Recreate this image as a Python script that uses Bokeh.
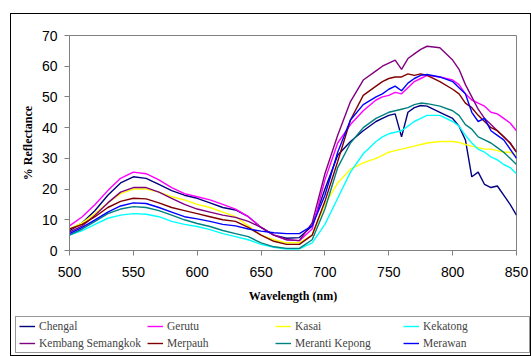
from bokeh.plotting import figure
from bokeh.layouts import column
from bokeh.models import Legend, LegendItem, FixedTicker, Range1d
from bokeh.embed import file_html
from bokeh.resources import INLINE

wavelength = [500, 510, 520, 530, 540, 550, 560, 570, 580, 590, 600, 610, 620, 630, 640,
              650, 660, 670, 680, 690, 700, 710, 720, 730, 740, 745, 750, 755, 760, 765,
              770, 775, 780, 790, 800, 805, 810, 815, 820, 825, 830, 835, 840, 845, 850]

chengal = [6.5, 9, 13, 18, 22, 24, 23.5, 21.5, 19.5, 18, 17, 15.5, 14, 13.2, 11,
           7.5, 5, 4, 4.2, 8, 20, 31, 35.5, 39, 42, 43, 44, 44.5, 37, 45,
           46.5, 47.2, 47, 45, 43, 40.5, 36, 24, 25.5, 21.5, 20.5, 21, 18, 15, 11.5]
gerutu = [8, 11, 15, 19.5, 23.5, 25.5, 25, 23, 20.5, 18.5, 17.5, 16.5, 15, 13.5, 11,
          7.5, 5, 3.5, 3.2, 7, 23, 35, 41, 45.5, 49, 50, 50.5, 51.5, 51, 53,
          55, 56, 57, 56.5, 55.5, 54, 51, 49, 48, 47, 45, 44.5, 43, 41.5, 39]
kasai = [7, 9, 12, 15.5, 18.5, 20, 20, 19, 17.5, 16.5, 15, 14, 12.5, 11, 8,
         5, 3.5, 2.5, 2.5, 5, 15, 22, 26.5, 28.5, 30, 31, 32, 32.5, 33, 33.5,
         34, 34.5, 35, 35.5, 35.5, 35.2, 34.5, 34, 33.5, 33, 33, 32.5, 32, 32, 31]
kekatong = [5, 6.5, 8.5, 10.5, 11.5, 12, 11.8, 11, 9.5, 8.5, 7.8, 6.8, 5.5, 4.5, 3.5,
            2, 1, 0.5, 0.5, 2.5, 8.5, 17, 25.5, 31.5, 35.5, 37, 38, 38.5, 39, 40.5,
            42, 43, 44, 44, 42, 40.5, 37.5, 35, 33, 32, 30.5, 29.5, 28, 27, 25]
kembang = [6, 8, 11.5, 15.5, 19, 20.5, 20.5, 19, 17, 15, 13.5, 12.5, 11.5, 10.8, 9.5,
           7.5, 5, 3.5, 3.2, 9, 25, 37.5, 48.5, 55.5, 58.5, 60, 61, 62, 59, 62.5,
           64, 65.5, 66.5, 66, 62, 59, 54, 50, 46, 43, 41, 39, 37, 35, 32]
merpauh = [7, 8.5, 11, 14, 16, 17, 16.8, 15.5, 14, 13, 12, 11, 10, 9.5, 7.5,
           5, 3, 2, 2, 5, 16, 29, 42.5, 50.5, 53.5, 55, 56, 56.5, 56.5, 57.5,
           57, 57.5, 57, 55, 52.5, 51, 48, 46.5, 44, 42, 40, 39, 37, 35, 32]
meranti_kepong = [5, 7, 9.5, 12, 13.5, 14.3, 14, 13, 11.5, 10, 8.8, 7.8, 6.5, 5.5, 4.5,
                  2.5, 1.2, 0.7, 0.7, 3.5, 13.5, 27, 35, 40, 43, 44, 45, 45.5, 46, 46.5,
                  47.5, 48, 47.8, 47, 45.5, 44, 41, 39.5, 37, 36, 35, 33.5, 32, 30, 28]
merawan = [5.5, 7.5, 10, 12.5, 14.5, 15.5, 15.3, 14, 12.5, 11, 10.3, 9.5, 8.5, 8, 7,
           6.3, 5.8, 5.5, 5.5, 8, 18, 32, 42.5, 47.5, 50, 51, 52.5, 53.5, 52, 54.5,
           56, 57, 57.3, 56.5, 55, 53, 51, 45, 42, 43, 39, 37.5, 36, 33, 30]

series_names = ["Chengal", "Gerutu", "Kasai", "Kekatong",
                "Kembang Semangkok", "Merpauh", "Meranti Kepong", "Merawan"]
series_values = [chengal, gerutu, kasai, kekatong, kembang, merpauh, meranti_kepong, merawan]
series_colors = ["#000080", "#FF00FF", "#FFFF00", "#00FFFF",
                 "#800080", "#800000", "#008080", "#0000FF"]

x_ticks = [500, 550, 600, 650, 700, 750, 800, 850]
y_ticks = [0, 10, 20, 30, 40, 50, 60, 70]

p = figure(width=519, height=293, output_backend="svg", toolbar_location=None,
           x_range=Range1d(500, 850), y_range=Range1d(0, 70),
           min_border_left=58, min_border_top=21, min_border_right=14, min_border_bottom=57)
p.frame_align = False

p.xgrid.visible = False
p.ygrid.visible = False
p.outline_line_color = "#808080"
p.background_fill_color = "white"
p.border_fill_color = "white"

for ax, ticks in ((p.xaxis, x_ticks), (p.yaxis, y_ticks)):
    ax.ticker = FixedTicker(ticks=ticks)
    ax.minor_tick_line_color = None
    ax.major_tick_in = 0
    ax.major_tick_out = 5
    ax.axis_line_color = "#808080"
    ax.major_tick_line_color = "#808080"
    ax.major_label_text_font = "Liberation Sans"
    ax.major_label_text_font_size = "14px"
    ax.major_label_text_color = "black"
    ax.axis_label_text_font = "Liberation Serif"
    ax.axis_label_text_font_style = "bold"
    ax.axis_label_text_font_size = "12px"
    ax.axis_label_text_color = "black"

p.xaxis.axis_label = "Wavelength (nm)"
p.yaxis.axis_label = "% Reflectance"
p.xaxis.major_label_standoff = 11
p.xaxis.axis_label_standoff = 9
p.yaxis.major_label_standoff = 7
p.yaxis.axis_label_standoff = 4

for name, vals, col in zip(series_names, series_values, series_colors):
    p.line(wavelength, vals, line_color=col, line_width=1.4)

# legend panel below the chart (its own frame, not aligned to the chart's frame)
pl = figure(width=519, height=48, output_backend="svg", toolbar_location=None,
            x_axis_location=None, y_axis_location=None,
            min_border_left=0, min_border_right=0, min_border_top=0, min_border_bottom=0,
            x_range=Range1d(0, 1), y_range=Range1d(0, 1))
pl.frame_align = False
pl.outline_line_color = None
pl.xgrid.visible = False
pl.ygrid.visible = False
items = []
for name, vals, col in zip(series_names, series_values, series_colors):
    r = pl.line(wavelength, vals, line_color=col, line_width=1.4)
    items.append(LegendItem(label=name, renderers=[r]))

legend = Legend(items=items, ncols=4, orientation="horizontal",
                label_text_font="Liberation Serif", label_text_font_size="11.5px",
                label_width=103, glyph_width=16, glyph_height=10, label_height=10,
                spacing=5, padding=3, margin=0, label_standoff=4,
                border_line_color="#303030", border_line_width=1,
                background_fill_alpha=1.0,
                location=(4, 2))
pl.add_layout(legend)

layout = column(p, pl, spacing=0,
                styles={"margin-left": "10px", "margin-top": "13px", "border": "1px solid black"})

open("out.html", "w").write(file_html(layout, INLINE))
